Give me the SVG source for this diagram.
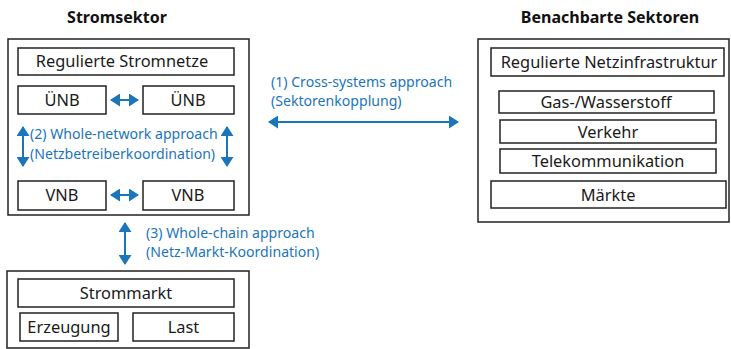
<svg xmlns="http://www.w3.org/2000/svg" width="731" height="349" viewBox="0 0 731 349">
  <defs>
    <style>
      .frame { fill: #ffffff; stroke: #222222; stroke-width: 1.5; }
      .box { fill: #ffffff; stroke: #222222; stroke-width: 1.5; }
      .lbl { font-family: "Noto Sans", "Open Sans", sans-serif; font-size: 16.4px; fill: #1a1a1a; text-anchor: middle; }
      .title { font-family: "Noto Sans", "Open Sans", sans-serif; font-size: 16px; font-weight: bold; fill: #111111; text-anchor: middle; }
      .note { font-family: "Noto Sans", "Open Sans", sans-serif; font-size: 14.1px; fill: #1b75bb; }
      .link { stroke: #1b75bb; stroke-width: 2; fill: none; marker-start: url(#head); marker-end: url(#head); }
    </style>
    <marker id="head" viewBox="0 0 10 10" refX="9" refY="5" markerWidth="5" markerHeight="6.5" preserveAspectRatio="none" orient="auto-start-reverse" markerUnits="strokeWidth">
      <path d="M0,0 L10,5 L0,10 Z" fill="#1b75bb"/>
    </marker>
  </defs>
  <rect width="731" height="349" fill="#ffffff"/>

  <!-- Titles -->
  <text class="title" x="117" y="23">Stromsektor</text>
  <text class="title" x="610" y="23">Benachbarte Sektoren</text>

  <!-- Power sector -->
  <g id="stromsektor">
    <rect class="frame" x="8" y="39" width="241" height="176"/>
  </g>
  <g id="stromnetze">
    <rect class="box" x="18" y="48" width="216" height="27"/>
    <text class="lbl" x="122" y="67">Regulierte Stromnetze</text>
  </g>
  <g id="uenb-1">
    <rect class="box" x="18" y="86" width="88" height="28"/>
    <text class="lbl" x="62" y="106">ÜNB</text>
  </g>
  <g id="uenb-2">
    <rect class="box" x="143" y="86" width="91" height="28"/>
    <text class="lbl" x="188" y="106">ÜNB</text>
  </g>
  <g id="vnb-1">
    <rect class="box" x="18" y="181" width="88" height="29"/>
    <text class="lbl" x="62" y="201">VNB</text>
  </g>
  <g id="vnb-2">
    <rect class="box" x="143" y="181" width="91" height="29"/>
    <text class="lbl" x="188" y="201">VNB</text>
  </g>

  <!-- Neighbouring sectors -->
  <g id="nachbarsektoren">
    <rect class="frame" x="478" y="39" width="251" height="183"/>
  </g>
  <g id="netzinfrastruktur">
    <rect class="box" x="491" y="48" width="233" height="28"/>
    <text class="lbl" x="609" y="68">Regulierte Netzinfrastruktur</text>
  </g>
  <g id="gas">
    <rect class="box" x="499" y="91" width="215" height="22"/>
    <text class="lbl" x="606" y="108">Gas-/Wasserstoff</text>
  </g>
  <g id="verkehr">
    <rect class="box" x="500" y="120" width="216" height="23"/>
    <text class="lbl" x="608" y="138">Verkehr</text>
  </g>
  <g id="telekom">
    <rect class="box" x="500" y="149" width="216" height="24"/>
    <text class="lbl" x="608" y="167">Telekommunikation</text>
  </g>
  <g id="maerkte">
    <rect class="box" x="491" y="181" width="235" height="27"/>
    <text class="lbl" x="608" y="201">Märkte</text>
  </g>

  <!-- Market -->
  <g id="markt">
    <rect class="frame" x="7" y="271" width="242" height="77"/>
  </g>
  <g id="strommarkt">
    <rect class="box" x="18" y="279" width="216" height="28"/>
    <text class="lbl" x="126" y="299">Strommarkt</text>
  </g>
  <g id="erzeugung">
    <rect class="box" x="20" y="313" width="98" height="28"/>
    <text class="lbl" x="69" y="333">Erzeugung</text>
  </g>
  <g id="last">
    <rect class="box" x="133" y="313" width="101" height="28"/>
    <text class="lbl" x="183.5" y="333">Last</text>
  </g>

  <!-- Coordination links -->
  <g id="connectors">
    <line class="link" x1="111" y1="100" x2="138" y2="100"/>
    <line class="link" x1="111" y1="195" x2="138" y2="195"/>
    <line class="link" x1="23" y1="127" x2="23" y2="166"/>
    <line class="link" x1="227" y1="127" x2="227" y2="166"/>
    <line class="link" x1="269" y1="122" x2="458" y2="122"/>
    <line class="link" x1="125" y1="223" x2="125" y2="264"/>
    <text class="note" x="271" y="87">(1) Cross-systems approach</text>
    <text class="note" x="271" y="106">(Sektorenkopplung)</text>
    <text class="note" x="30" y="139">(2) Whole-network approach</text>
    <text class="note" x="30" y="159">(Netzbetreiberkoordination)</text>
    <text class="note" x="146" y="238">(3) Whole-chain approach</text>
    <text class="note" x="146" y="257">(Netz-Markt-Koordination)</text>
  </g>
</svg>
